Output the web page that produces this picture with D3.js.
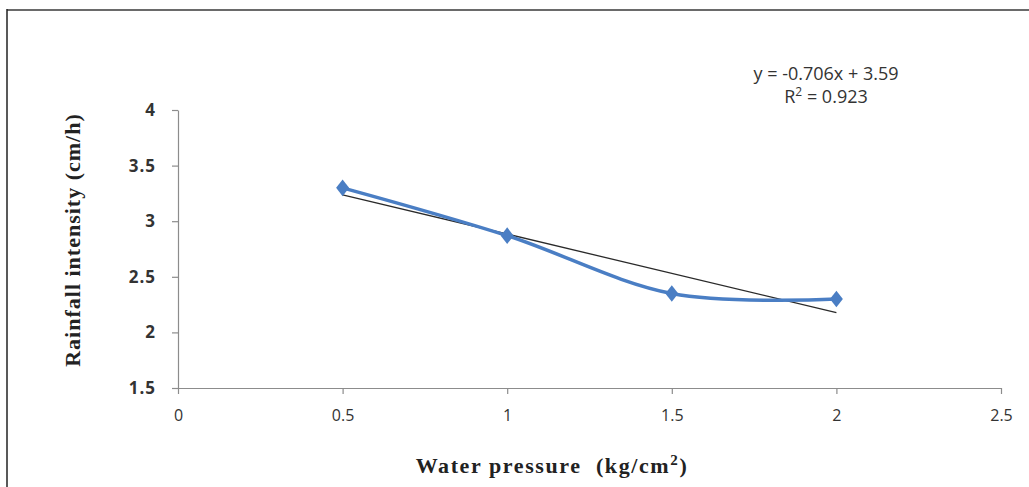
<!DOCTYPE html>
<meta charset="utf-8">
<title>Rainfall intensity vs water pressure</title>
<style>
body { margin: 0; background: #fff; }
.tick text { font-family: "Open Sans", sans-serif; fill: #333; }
.xaxis .tick text { font-size: 16px; }
.yaxis .tick text { font-size: 17px; font-weight: bold; letter-spacing: 1px; }
.axis path, .axis line { stroke: #8c8c8c; stroke-width: 1.2; }
.title { font-family: "Liberation Serif", "DejaVu Serif", serif; font-weight: bold; font-size: 22px; fill: #222; }
.eq { font-family: "Open Sans", sans-serif; font-size: 18px; fill: #333; }
</style>
<svg width="1029" height="487"></svg>
<script src="https://d3js.org/d3.v7.min.js"></script>
<script>

// data
var pressure = [0.5, 1, 1.5, 2];
var intensity = [3.3, 2.87, 2.35, 2.3];
var xTicks = [0, 0.5, 1, 1.5, 2, 2.5];
var yTicks = [1.5, 2, 2.5, 3, 3.5, 4];
var trendSlope = -0.706, trendIntercept = 3.59, rSquared = 0.923;

var svg = d3.select("svg");

// frame (only top + left edges show)
svg.append("line").attr("x1", 7).attr("x2", 1029).attr("y1", 10).attr("y2", 10)
    .attr("stroke", "#6a6a6a").attr("stroke-width", 2);
svg.append("line").attr("x1", 7).attr("x2", 7).attr("y1", 9).attr("y2", 487)
    .attr("stroke", "#222").attr("stroke-width", 1.5);

var x = d3.scaleLinear().domain([0, 2.5]).range([178, 1001]);
var y = d3.scaleLinear().domain([1.5, 4]).range([388, 110]);

svg.append("g")
    .attr("class", "axis xaxis")
    .attr("transform", "translate(0,388)")
    .call(d3.axisBottom(x).tickValues(xTicks).tickFormat(d3.format("")).tickSize(6).tickSizeOuter(0).tickPadding(16));

svg.append("g")
    .attr("class", "axis yaxis")
    .attr("transform", "translate(178,0)")
    .call(d3.axisLeft(y).tickValues(yTicks).tickFormat(d3.format("")).tickSize(6).tickSizeOuter(0).tickPadding(16));

// trendline over the data range
var x0 = d3.min(pressure), x1 = d3.max(pressure);
svg.append("line")
    .attr("x1", x(x0)).attr("y1", y(trendSlope * x0 + trendIntercept))
    .attr("x2", x(x1)).attr("y2", y(trendSlope * x1 + trendIntercept))
    .attr("stroke", "#2a2a2a").attr("stroke-width", 1.3);

// smoothed series
var pts = pressure.map(function(p, i) { return [p, intensity[i]]; });
var line = d3.line()
    .x(function(d) { return x(d[0]); })
    .y(function(d) { return y(d[1]); })
    .curve(d3.curveCardinal.tension(0));

svg.append("path")
    .datum(pts)
    .attr("fill", "none")
    .attr("stroke", "#4a7ec4")
    .attr("stroke-width", 3.5)
    .attr("d", line);

svg.selectAll(".marker")
    .data(pts)
    .enter().append("path")
    .attr("class", "marker")
    .attr("d", d3.symbol().type(d3.symbolDiamond).size(110))
    .attr("transform", function(d) { return "translate(" + x(d[0]) + "," + y(d[1]) + ") scale(1.15,0.85)"; })
    .attr("fill", "#4a7ec4");

// equation
svg.append("text").attr("class", "eq").attr("x", 826).attr("y", 80)
    .attr("text-anchor", "middle")
    .text("y = " + trendSlope + "x + " + trendIntercept);
var r2 = svg.append("text").attr("class", "eq").attr("x", 826).attr("y", 103)
    .attr("text-anchor", "middle");
r2.append("tspan").text("R");
r2.append("tspan").attr("dy", -7).attr("font-size", 12).text("2");
r2.append("tspan").attr("dy", 7).text(" = " + rSquared);

// axis titles
var xt = svg.append("text").attr("class", "title")
    .attr("x", 552).attr("y", 473).attr("text-anchor", "middle")
    .attr("letter-spacing", 1.6).attr("xml:space", "preserve");
xt.append("tspan").text("Water pressure  (kg/cm");
xt.append("tspan").attr("dy", -8).attr("font-size", 15).text("2");
xt.append("tspan").attr("dy", 8).text(")");

svg.append("text").attr("class", "title")
    .attr("transform", "translate(80,240) rotate(-90)")
    .attr("text-anchor", "middle")
    .attr("letter-spacing", 1)
    .text("Rainfall intensity (cm/h)");

</script>
